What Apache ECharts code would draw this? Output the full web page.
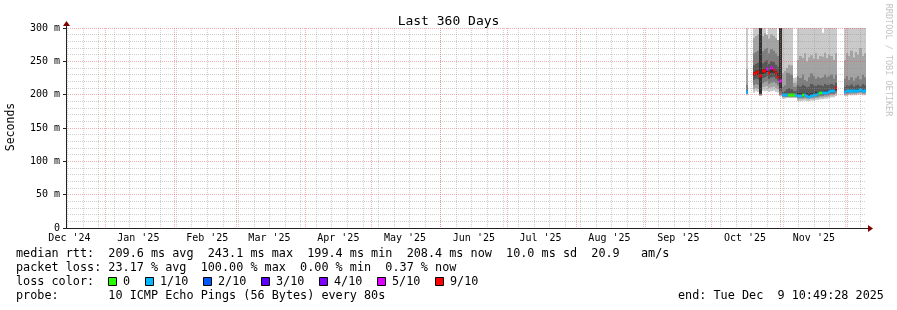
<!DOCTYPE html>
<html><head><meta charset="utf-8">
<script src="https://cdn.jsdelivr.net/npm/echarts@6/dist/echarts.min.js"></script>
<style>html,body{margin:0;padding:0;background:#fff}#c{width:897px;height:310px}</style>
</head><body><div id="c"></div>
<script>
// ---------- data ----------
const TITLE = 'Last 360 Days';
const Y_AXIS_NAME = 'Seconds';
const Y_TICKS = [0, 50, 100, 150, 200, 250, 300];            // ms
// x axis: days since window start (Sat Dec 14 2024 10:49:28) .. 360
const MONTH_START_DAYS = [17.549, 48.549, 76.549, 107.549, 137.549, 168.549, 198.549, 229.549, 260.549, 290.549, 321.549, 351.549];
const MONTH_LABELS = ["Dec '24", "Jan '25", "Feb '25", "Mar '25", "Apr '25", "May '25", "Jun '25", "Jul '25", "Aug '25", "Sep '25", "Oct '25", "Nov '25"];
const MONTH_LABEL_DAYS = [1.549, 32.549, 63.549, 91.549, 122.549, 152.549, 183.549, 213.549, 244.549, 275.549, 305.549, 336.549];
const FIRST_SUNDAY_DAY = 0.549;

// one bin per day; sorted ping averages p1..p10 (ms), median (ms), loss (pings lost of 10)
const binDay = [306, 309, 310, 311, 312, 313, 314, 315, 316, 317, 318, 319, 320, 321,
  322, 323, 324, 325, 326, 327, 328,
  329, 330, 331, 332, 333, 334, 335, 336, 337, 338, 339, 340, 341, 342, 343, 344, 345, 346,
  350, 351, 352, 353, 354, 355, 356, 357, 358, 359];
const smokePings = [
  [199,201,202,203,204,205,207,215,238,330],
  [203,208,214,222,228,234,244,262,285,330],
  [205,210,216,224,229,236,246,264,288,330],
  [204,209,215,223,230,237,248,266,290,330],
  [198,199,200,201,202,330,330,330,330,330],
  [206,211,217,225,231,238,247,265,288,330],
  [205,212,219,226,232,239,250,268,292,330],
  [206,213,220,228,234,241,252,270,290,262],
  [204,210,216,224,230,236,246,262,284,330],
  [205,211,218,226,233,240,250,268,290,330],
  [206,212,219,227,233,239,249,266,288,330],
  [204,210,217,224,230,236,245,262,285,330],
  [203,208,214,221,226,232,242,258,282,270],
  [198,199,200,205,210,330,330,330,330,330],
  [194,196,197,198,199,201,204,212,232,330],
  [194,196,197,198,199,201,205,214,236,330],
  [195,196,197,198,199,201,208,233,240,330],
  [195,196,197,198,199,200,210,232,245,330],
  [195,196,197,198,199,200,208,230,244,330],
  [195,196,197,198,199,201,205,212,218,225],
  [195,196,197,198,199,201,205,212,218,226],
  [190,193,195,197,199,202,214,228,252,330],
  [190,193,195,197,199,202,212,225,258,330],
  [191,193,195,197,199,203,215,230,255,330],
  [191,194,196,198,199,202,213,222,262,330],
  [190,193,195,197,199,202,211,220,250,330],
  [190,193,195,197,198,201,212,226,256,330],
  [191,194,196,198,199,202,216,232,259,330],
  [191,194,196,198,200,203,214,228,254,330],
  [192,195,197,199,201,204,213,224,262,330],
  [192,195,197,199,201,204,215,227,253,330],
  [193,196,198,200,202,205,214,225,258,330],
  [193,196,198,200,202,205,213,226,257,293],
  [194,197,199,201,203,206,216,230,263,330],
  [194,197,199,201,203,206,214,226,255,330],
  [195,198,200,202,204,207,215,228,260,330],
  [196,199,201,203,205,208,216,230,258,330],
  [196,199,201,203,205,208,214,224,252,330],
  [198,201,203,205,207,210,218,230,262,330],
  [198,200,202,203,204,206,212,224,252,330],
  [198,200,202,203,204,206,214,228,262,330],
  [199,201,202,204,205,207,213,222,258,330],
  [199,201,203,204,205,207,215,226,266,330],
  [199,201,203,204,205,207,212,221,256,330],
  [199,201,203,204,205,208,214,225,264,330],
  [200,202,203,205,206,208,215,228,260,330],
  [200,202,204,205,206,208,213,223,270,330],
  [199,201,203,205,206,208,216,230,258,330],
  [199,201,203,204,205,207,214,226,262,330]
];
const medianRtt = [204, 231,233,234,228,235,236,238,233,240,237,232,226,220,
  200,200,199,199,199,199,200,
  198,198,199,199,198,197,198,199,200,201,202,202,203,203,204,205,206,210,
  204,205,205,206,205,206,206,207,206,205];
const lossCount = [1, 9,9,9,9,9,9,5,9,5,9,9,9,5,
  1,1,1,0,0,0,1,
  1,1,0,1,1,1,1,1,1,1,0,1,1,1,1,1,1,9,
  1,1,1,1,1,1,1,1,1,1];

const LOSS_STEPS = [0, 1, 2, 3, 4, 5, 9];
const LOSS_LABELS = ['0', '1/10', '2/10', '3/10', '4/10', '5/10', '9/10'];
const LOSS_COLORS = ['#26ff00', '#00b8ff', '#0059ff', '#5e00ff', '#7e00ff', '#dd00ff', '#ff0000'];

const STAT_LINES = [
  'median rtt:  209.6 ms avg  243.1 ms max  199.4 ms min  208.4 ms now  10.0 ms sd  20.9   am/s',
  'packet loss: 23.17 % avg  100.00 % max  0.00 % min  0.37 % now',
  'loss color:',
  'probe:       10 ICMP Echo Pings (56 Bytes) every 80s'
];
const END_TEXT = 'end: Tue Dec  9 10:49:28 2025';
const WATERMARK = 'RRDTOOL / TOBI OETIKER';

// ---------- styles ----------
const MONO = '"DejaVu Sans Mono", monospace';
const SHADES = ['#cacaca', '#a4a4a4', '#7e7e7e', '#585858', '#323232'];
const BIN_W = 1;
const MINOR_GRID = 'rgba(143,143,143,0.42)';
const MAJOR_GRID = 'rgba(230,80,80,0.45)';

function lossColor(l) {
  let c = LOSS_COLORS[0];
  for (let i = 0; i < LOSS_STEPS.length; i++) if (l >= LOSS_STEPS[i]) c = LOSS_COLORS[i];
  return c;
}
const weekDays = [];
for (let d = FIRST_SUNDAY_DAY; d < 360; d += 7) weekDays.push(d);

const seriesData = binDay.map((d, i) => [d].concat(smokePings[i], [medianRtt[i], lossCount[i]]));

function renderBin(params, api) {
  const d = api.value(0);
  const cs = params.coordSys;
  const box = {x: cs.x, y: cs.y, width: cs.width, height: cs.height};
  const kids = [];
  const xa = Math.round(api.coord([d, 0])[0]);
  const xb = Math.round(api.coord([d + BIN_W, 0])[0]);
  for (let b = 0; b < 5; b++) {
    const lo = api.value(1 + b), hi = Math.max(api.value(10 - b), lo);
    const ya = api.coord([d, lo])[1], yb = api.coord([d, hi])[1];
    const r = echarts.graphic.clipRectByRect({x: xa, y: yb, width: xb - xa, height: ya - yb}, box);
    if (r) kids.push({type: 'rect', shape: r, style: {fill: SHADES[b]}});
  }
  const m = api.value(11), loss = api.value(12);
  const ym = api.coord([d, m])[1];
  kids.push({type: 'rect', shape: {x: xa, y: Math.round(ym) - 1.5, width: xb - xa, height: 3}, style: {fill: lossColor(loss)}});
  return {type: 'group', children: kids};
}

const graphics = [];
STAT_LINES.forEach((t, i) => {
  graphics.push({type: 'text', x: 16, y: 254 + i * 14, style: {text: t, font: '11.8px ' + MONO, fill: '#000', verticalAlign: 'middle'}});
});
graphics.push({type: 'text', x: 678, y: 296, style: {text: END_TEXT, font: '11.8px ' + MONO, fill: '#000', verticalAlign: 'middle'}});
const SW_X = [108.5, 145.5, 203.5, 261.5, 319.5, 377.5, 435.5];
LOSS_LABELS.forEach((t, i) => {
  graphics.push({type: 'rect', shape: {x: SW_X[i], y: 277.5, width: 8, height: 8}, style: {fill: LOSS_COLORS[i], stroke: '#000', lineWidth: 1}});
  graphics.push({type: 'text', x: SW_X[i] + 14.5, y: 282, style: {text: t, font: '11.8px ' + MONO, fill: '#000', verticalAlign: 'middle'}});
});
graphics.push({type: 'text', x: 11, y: 127, rotation: Math.PI / 2, style: {text: Y_AXIS_NAME, font: '11.5px ' + MONO, fill: '#000', align: 'center', verticalAlign: 'middle'}});
graphics.push({type: 'text', x: 888, y: 60, rotation: -Math.PI / 2, style: {text: WATERMARK, font: '8.5px ' + MONO, fill: '#c4c4c4', align: 'center', verticalAlign: 'middle'}});
// axis extensions + arrows
graphics.push({type: 'line', shape: {x1: 866, y1: 228.5, x2: 869, y2: 228.5}, style: {stroke: '#212121', lineWidth: 1}});
graphics.push({type: 'polygon', shape: {points: [[868, 225], [873, 228.5], [868, 232]]}, style: {fill: '#800000'}});
graphics.push({type: 'line', shape: {x1: 66.5, y1: 28, x2: 66.5, y2: 25}, style: {stroke: '#212121', lineWidth: 1}});
graphics.push({type: 'polygon', shape: {points: [[63, 26], [66.5, 21], [70, 26]]}, style: {fill: '#800000'}});

const chart = echarts.init(document.getElementById('c'), null, {renderer: 'canvas', width: 897, height: 310});
chart.setOption({
  animation: false,
  backgroundColor: '#fff',
  title: {text: TITLE, left: 'center', top: 10, textStyle: {fontFamily: MONO, fontSize: 13, fontWeight: 'normal', color: '#000'}},
  grid: {left: 66, top: 28, width: 800, height: 200, containLabel: false},
  xAxis: [
    {type: 'value', min: 0, max: 360, position: 'bottom', z: 3,
      axisLine: {show: false}, axisLabel: {show: false},
      axisTick: {show: false, customValues: weekDays},
      splitLine: {show: true, lineStyle: {color: MINOR_GRID, type: [1, 1], width: 1}}},
    {type: 'value', min: 0, max: 360, position: 'bottom', z: 4,
      axisLine: {show: true, lineStyle: {color: '#212121', width: 1}},
      axisTick: {show: false, customValues: MONTH_START_DAYS},
      splitLine: {show: true, lineStyle: {color: MAJOR_GRID, type: [1, 1], width: 1}},
      axisLabel: {show: true, customValues: MONTH_LABEL_DAYS, margin: 5, fontFamily: MONO, fontSize: 10, color: '#000',
        formatter: v => {
          let best = 0;
          MONTH_LABEL_DAYS.forEach((d, i) => { if (Math.abs(d - v) < Math.abs(MONTH_LABEL_DAYS[best] - v)) best = i; });
          return MONTH_LABELS[best];
        }}}
  ],
  yAxis: [{type: 'value', min: 0, max: 300, interval: 50, z: 4,
    axisLine: {show: true, lineStyle: {color: '#212121'}},
    axisTick: {show: true, length: 3, lineStyle: {color: '#212121'}},
    axisLabel: {customValues: Y_TICKS, margin: 6, fontFamily: MONO, fontSize: 10, color: '#000', formatter: v => v === 0 ? '0' : v + ' m'},
    splitLine: {show: true, lineStyle: {color: MAJOR_GRID, type: [1, 1]}},
    minorTick: {show: false, splitNumber: 5},
    minorSplitLine: {show: true, lineStyle: {color: MINOR_GRID, type: [1, 1]}}
  }],
  series: [{
    type: 'custom', xAxisIndex: 1, yAxisIndex: 0, z: 2,
    renderItem: renderBin,
    encode: {x: 0, y: [1, 10]},
    data: seriesData
  }],
  graphic: graphics
});
</script>
</body></html>
